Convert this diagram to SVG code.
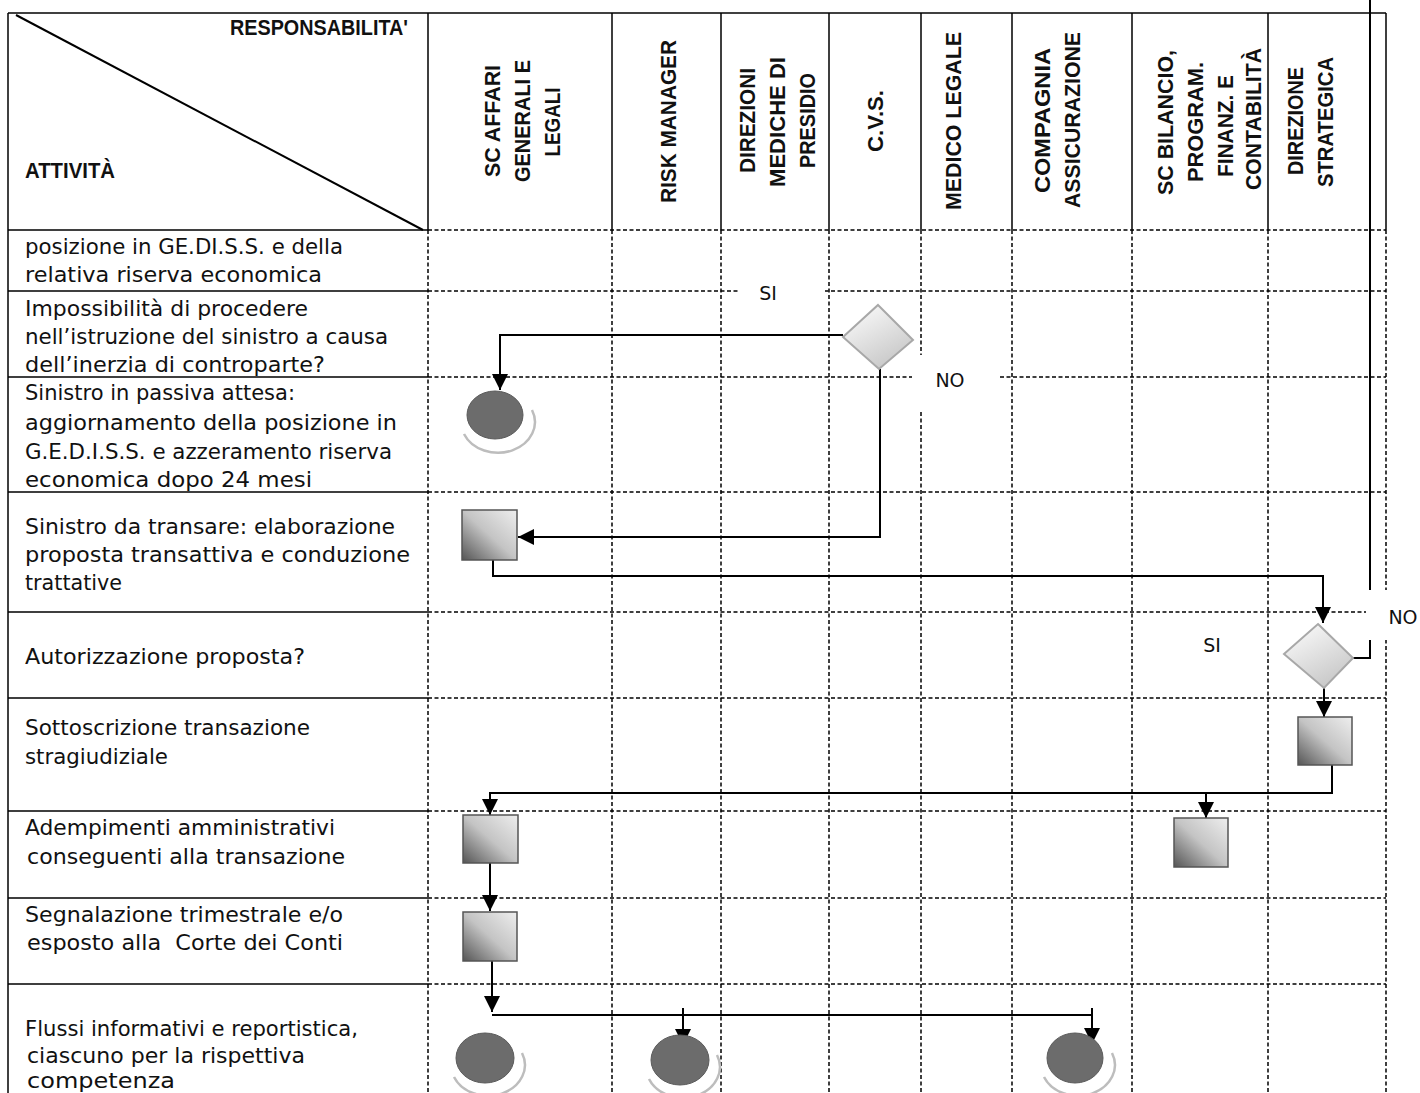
<svg xmlns="http://www.w3.org/2000/svg" width="1420" height="1093" viewBox="0 0 1420 1093">
<style>
.solid{stroke:#000;stroke-width:1.5;fill:none}
.dash{stroke:#000;stroke-width:1.5;fill:none;stroke-dasharray:4 2.5}
.body{font-family:"DejaVu Sans","Liberation Sans",sans-serif;font-size:22px;fill:#111}
.hdr{font-family:"Liberation Sans",Arial,sans-serif;font-weight:bold;font-size:22px;fill:#111}
.lbl{font-family:"DejaVu Sans","Liberation Sans",sans-serif;font-size:19px;fill:#111}
.conn{stroke:#000;stroke-width:2;fill:none}
.arr{stroke:#000;stroke-width:2;fill:none;marker-end:url(#ah)}
.rect{fill:url(#rg);stroke:#555;stroke-width:1.5}
.dia{fill:url(#dg);stroke:#a8a8a8;stroke-width:2}
.end{fill:#6c6c6c;stroke:#5a5a5a;stroke-width:1}
.shadow{fill:none;stroke:#bdbdbd;stroke-width:2.5}
</style>
<defs>
<marker id="ah" markerUnits="userSpaceOnUse" markerWidth="16" markerHeight="16" viewBox="0 0 16 16" refX="16" refY="8" orient="auto">
<path d="M0,0 L16,8 L0,16 z" fill="#000"/>
</marker>
<linearGradient id="rg" x1="0" y1="1" x2="1" y2="0">
<stop offset="0" stop-color="#555"/>
<stop offset="0.5" stop-color="#c4c4c4"/>
<stop offset="1" stop-color="#eeeeee"/>
</linearGradient>
<linearGradient id="dg" x1="0" y1="0" x2="0.6" y2="1">
<stop offset="0" stop-color="#ffffff"/>
<stop offset="1" stop-color="#c8c8c8"/>
</linearGradient>
</defs>
<rect width="1420" height="1093" fill="#fff"/>

<g id="grid">
<line class="solid" x1="8" y1="13" x2="1386" y2="13"/>
<line class="solid" x1="8" y1="13" x2="8" y2="1093"/>
<line class="solid" x1="16" y1="15" x2="423" y2="230" style="stroke-width:2"/>
<path class="solid" d="M428 13V230M612 13V230M721 13V230M829 13V230M921 13V230M1012 13V230M1132 13V230M1268 13V230M1386 13V230"/>
<path class="solid" d="M8 230H428M8 291H428M8 377H428M8 492H428M8 612H428M8 698H428M8 811H428M8 898H428M8 984H428"/>
<path class="dash" d="M428 230H1386M428 291H1386M428 377H1386M428 492H1386M428 612H1386M428 698H1386M428 811H1386M428 898H1386M428 984H1386"/>
<path class="dash" d="M428 230V1093M612 230V1093M721 230V1093M829 230V1093M921 230V1093M1012 230V1093M1132 230V1093M1268 230V1093M1386 230V1093"/>
</g>

<g id="header">
<text class="hdr" x="408" y="35" text-anchor="end" font-size="19" textLength="178" lengthAdjust="spacingAndGlyphs">RESPONSABILITA'</text>
<text class="hdr" x="25" y="178" font-size="19" textLength="90" lengthAdjust="spacingAndGlyphs">ATTIVITÀ</text>
<g text-anchor="middle">
<text class="hdr" transform="translate(500,121) rotate(-90)" textLength="112" lengthAdjust="spacingAndGlyphs">SC AFFARI</text>
<text class="hdr" transform="translate(530,121) rotate(-90)" textLength="122" lengthAdjust="spacingAndGlyphs">GENERALI E</text>
<text class="hdr" transform="translate(560,122) rotate(-90)" textLength="69" lengthAdjust="spacingAndGlyphs">LEGALI</text>
<text class="hdr" transform="translate(676,121.5) rotate(-90)" textLength="163" lengthAdjust="spacingAndGlyphs">RISK MANAGER</text>
<text class="hdr" transform="translate(755,120.5) rotate(-90)" textLength="105" lengthAdjust="spacingAndGlyphs">DIREZIONI</text>
<text class="hdr" transform="translate(785,122) rotate(-90)" textLength="130" lengthAdjust="spacingAndGlyphs">MEDICHE DI</text>
<text class="hdr" transform="translate(815,120.5) rotate(-90)" textLength="95" lengthAdjust="spacingAndGlyphs">PRESIDIO</text>
<text class="hdr" transform="translate(883,121) rotate(-90)" textLength="62" lengthAdjust="spacingAndGlyphs">C.V.S.</text>
<text class="hdr" transform="translate(961,121) rotate(-90)" textLength="178" lengthAdjust="spacingAndGlyphs">MEDICO LEGALE</text>
<text class="hdr" transform="translate(1050,120.5) rotate(-90)" textLength="145" lengthAdjust="spacingAndGlyphs">COMPAGNIA</text>
<text class="hdr" transform="translate(1080,120) rotate(-90)" textLength="176" lengthAdjust="spacingAndGlyphs">ASSICURAZIONE</text>
<text class="hdr" transform="translate(1173,122.5) rotate(-90)" textLength="145" lengthAdjust="spacingAndGlyphs">SC BILANCIO,</text>
<text class="hdr" transform="translate(1203,122) rotate(-90)" textLength="120" lengthAdjust="spacingAndGlyphs">PROGRAM.</text>
<text class="hdr" transform="translate(1233,126) rotate(-90)" textLength="102" lengthAdjust="spacingAndGlyphs">FINANZ. E</text>
<text class="hdr" transform="translate(1261,119) rotate(-90)" textLength="142" lengthAdjust="spacingAndGlyphs">CONTABILITÀ</text>
<text class="hdr" transform="translate(1303,121) rotate(-90)" textLength="108" lengthAdjust="spacingAndGlyphs">DIREZIONE</text>
<text class="hdr" transform="translate(1333,122) rotate(-90)" textLength="130" lengthAdjust="spacingAndGlyphs">STRATEGICA</text>
</g>
</g>

<g id="activities">
<text class="body" x="25" y="254" textLength="318" lengthAdjust="spacingAndGlyphs">posizione in GE.DI.S.S. e della</text>
<text class="body" x="25" y="282" textLength="297" lengthAdjust="spacingAndGlyphs">relativa riserva economica</text>
<text class="body" x="25" y="316" textLength="283" lengthAdjust="spacingAndGlyphs">Impossibilità di procedere</text>
<text class="body" x="25" y="344" textLength="363" lengthAdjust="spacingAndGlyphs">nell’istruzione del sinistro a causa</text>
<text class="body" x="25" y="372" textLength="300" lengthAdjust="spacingAndGlyphs">dell’inerzia di controparte?</text>
<text class="body" x="25" y="400" textLength="270" lengthAdjust="spacingAndGlyphs">Sinistro in passiva attesa:</text>
<text class="body" x="25" y="430" textLength="372" lengthAdjust="spacingAndGlyphs">aggiornamento della posizione in</text>
<text class="body" x="25" y="459" textLength="367" lengthAdjust="spacingAndGlyphs">G.E.D.I.S.S. e azzeramento riserva</text>
<text class="body" x="25" y="487" textLength="287" lengthAdjust="spacingAndGlyphs">economica dopo 24 mesi</text>
<text class="body" x="25" y="534" textLength="370" lengthAdjust="spacingAndGlyphs">Sinistro da transare: elaborazione</text>
<text class="body" x="25" y="562" textLength="385" lengthAdjust="spacingAndGlyphs">proposta transattiva e conduzione</text>
<text class="body" x="25" y="590" textLength="97" lengthAdjust="spacingAndGlyphs">trattative</text>
<text class="body" x="25" y="664" textLength="280" lengthAdjust="spacingAndGlyphs">Autorizzazione proposta?</text>
<text class="body" x="25" y="735" textLength="285" lengthAdjust="spacingAndGlyphs">Sottoscrizione transazione</text>
<text class="body" x="25" y="764" textLength="143" lengthAdjust="spacingAndGlyphs">stragiudiziale</text>
<text class="body" x="25" y="835" textLength="310" lengthAdjust="spacingAndGlyphs">Adempimenti amministrativi</text>
<text class="body" x="27" y="864" textLength="318" lengthAdjust="spacingAndGlyphs">conseguenti alla transazione</text>
<text class="body" x="25" y="922" textLength="318" lengthAdjust="spacingAndGlyphs">Segnalazione trimestrale e/o</text>
<text class="body" x="27" y="950" xml:space="preserve" textLength="316" lengthAdjust="spacingAndGlyphs">esposto alla  Corte dei Conti</text>
<text class="body" x="25" y="1036" textLength="333" lengthAdjust="spacingAndGlyphs">Flussi informativi e reportistica,</text>
<text class="body" x="27" y="1063" textLength="278" lengthAdjust="spacingAndGlyphs">ciascuno per la rispettiva</text>
<text class="body" x="27" y="1088" textLength="148" lengthAdjust="spacingAndGlyphs">competenza</text>
</g>

<g id="connectors">
<path class="arr" d="M843 335H500V390"/>
<path class="arr" d="M880 369V537H518"/>
<path class="arr" d="M493 560V576H1323V623"/>
<path class="conn" d="M1342 658H1370V0"/>
<path class="arr" d="M1324 688V717"/>
<path class="arr" d="M1332 765V793H490V815"/>
<path class="arr" d="M1206 793V818"/>
<path class="arr" d="M490 863V911"/>
<path class="arr" d="M492 961V1012"/>
<path class="conn" d="M492 1015H1092"/>
<path class="arr" d="M683 1008V1045"/>
<path class="arr" d="M1092 1008V1044"/>
</g>

<g id="d1"><polygon class="dia" points="878,305 913,340 879,369 843,337"/></g>
<g id="d2"><polygon class="dia" points="1318,624 1353,658 1324,688 1284,654"/></g>

<g id="e1" transform="translate(495,415)"><path class="shadow" d="M-31 19A36 30 0 0 0 37 -5"/><ellipse class="end" rx="28" ry="24"/></g>
<g id="e2" transform="translate(485,1058)"><path class="shadow" d="M-31 19A36 30 0 0 0 37 -5"/><ellipse class="end" rx="29" ry="25"/></g>
<g id="e3" transform="translate(680,1060)"><path class="shadow" d="M-31 19A36 30 0 0 0 37 -5"/><ellipse class="end" rx="29" ry="25"/></g>
<g id="e4" transform="translate(1075,1058)"><path class="shadow" d="M-31 19A36 30 0 0 0 37 -5"/><ellipse class="end" rx="28" ry="25"/></g>

<g id="r1"><rect class="rect" x="462" y="510" width="55" height="50"/></g>
<g id="r2"><rect class="rect" x="1298" y="717" width="54" height="48"/></g>
<g id="r3"><rect class="rect" x="463" y="815" width="55" height="48"/></g>
<g id="r4"><rect class="rect" x="1174" y="818" width="54" height="49"/></g>
<g id="r5"><rect class="rect" x="463" y="912" width="54" height="49"/></g>

<g id="labels">
<rect x="740" y="282" width="85" height="22" fill="#fff"/>
<text class="lbl" x="768" y="300" text-anchor="middle">SI</text>
<rect x="912" y="355" width="86" height="55" fill="#fff"/>
<text class="lbl" x="950" y="387" text-anchor="middle">NO</text>
<rect x="1366" y="590" width="54" height="50" fill="#fff"/>
<text class="lbl" x="1403" y="624" text-anchor="middle">NO</text>
<text class="lbl" x="1212" y="652" text-anchor="middle">SI</text>
</g>
</svg>
